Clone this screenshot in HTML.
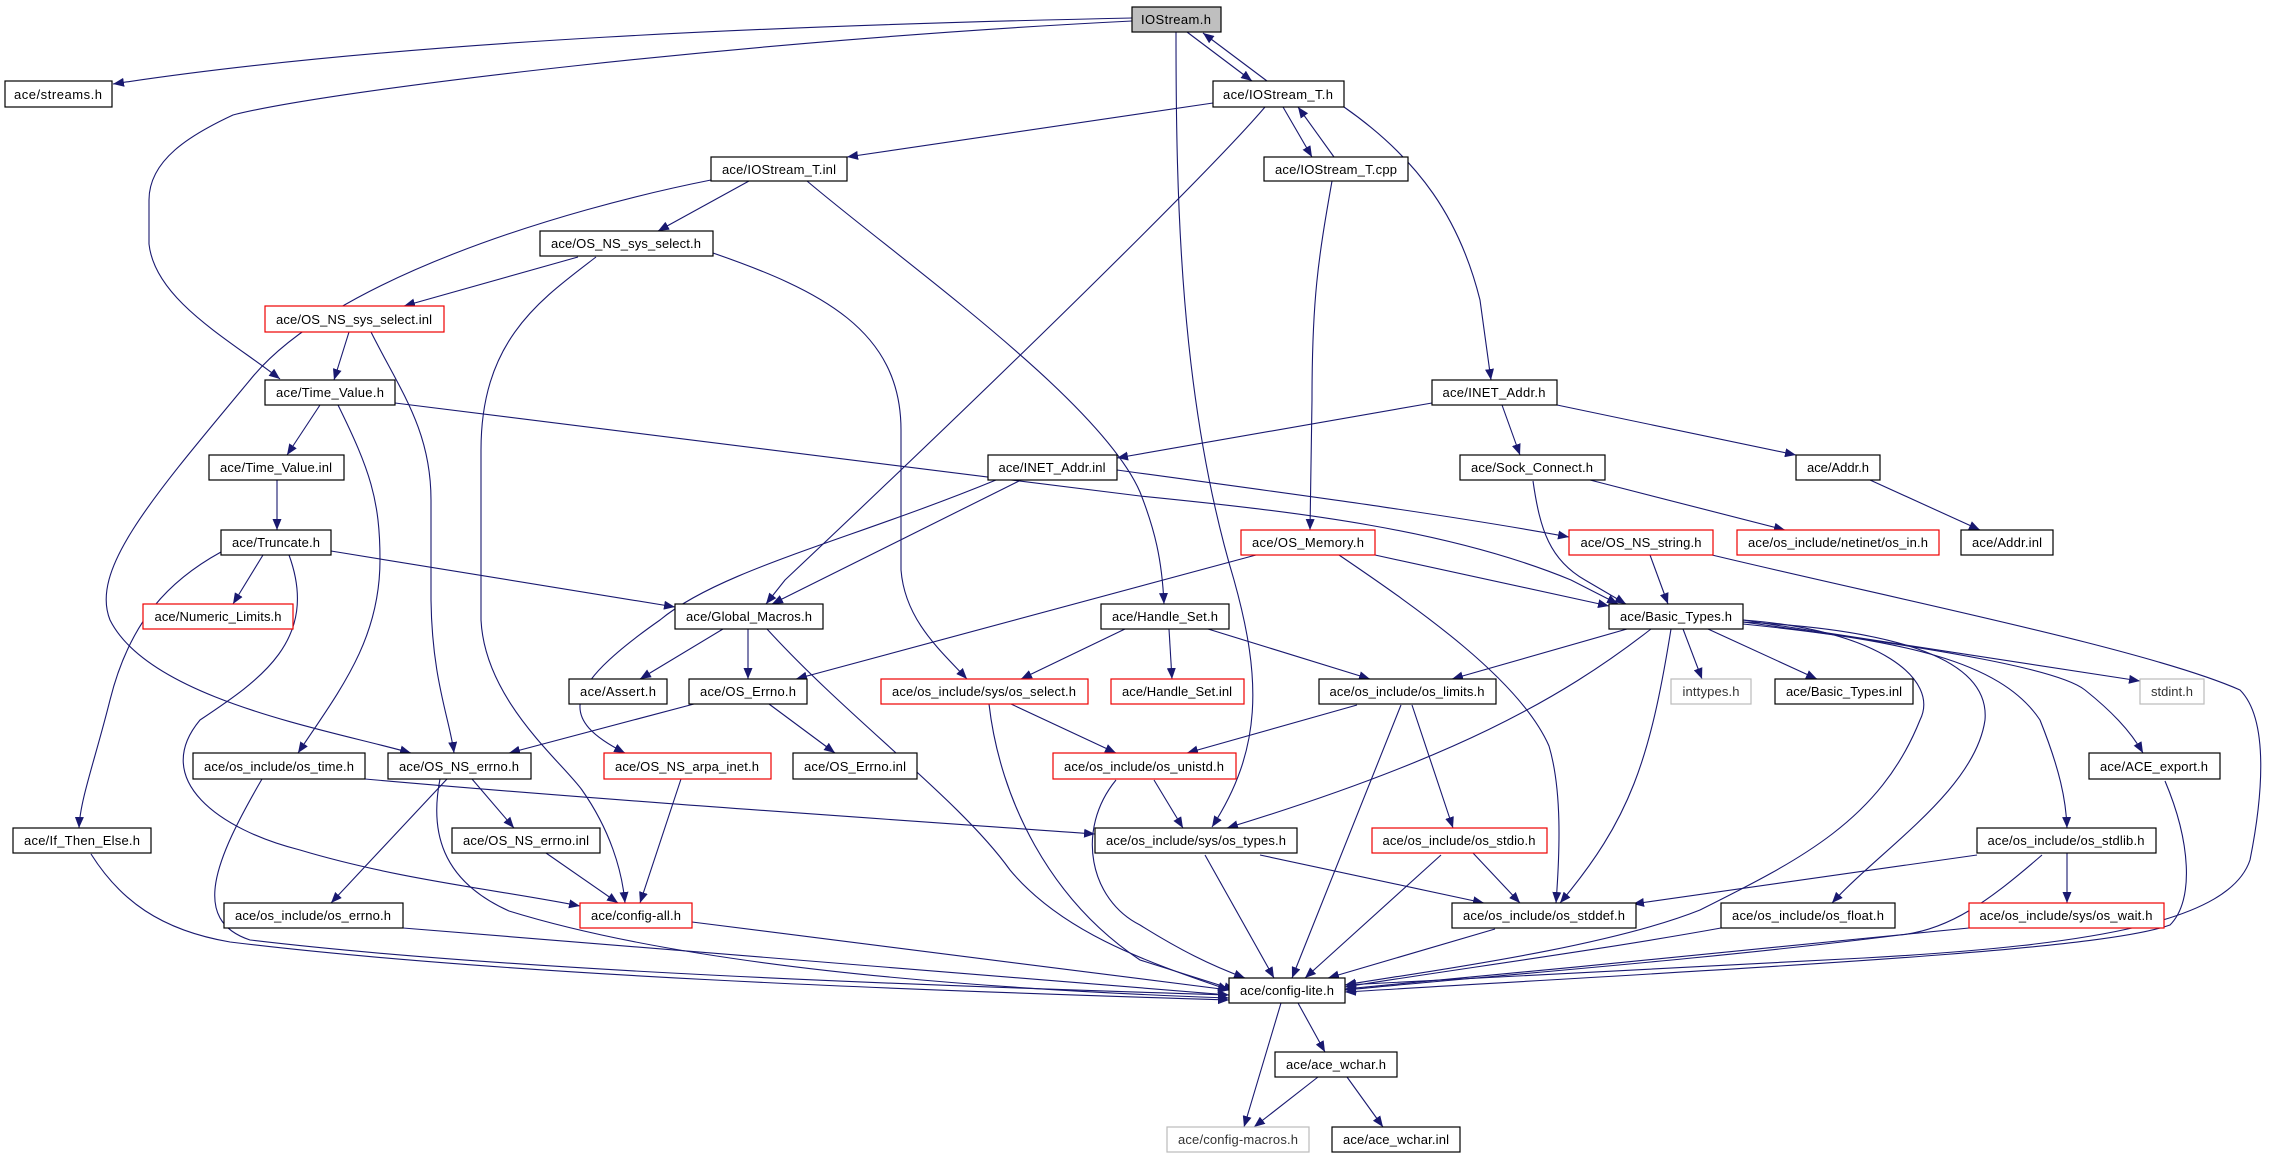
<!DOCTYPE html>
<html><head><meta charset="utf-8"><style>html,body{margin:0;padding:0;background:#fff}svg{display:block}</style></head><body>
<svg width="2276" height="1157" viewBox="0 0 2276 1157" xmlns="http://www.w3.org/2000/svg" font-family="Liberation Sans, sans-serif" font-size="13">
<defs><marker id="a" markerUnits="userSpaceOnUse" markerWidth="12" markerHeight="9" refX="11" refY="4.5" orient="auto"><path d="M0,0 L11,4.5 L0,9 z" fill="#191970"/></marker></defs>
<g fill="none" stroke="#191970" stroke-width="1.1" marker-end="url(#a)">
<path d="M1132,18 C800,25 400,40 113,84"/>
<path d="M1132,21 C750,40 330,90 233,115 C190,135 149,160 149,200 L149,244 C155,300 230,340 280,379"/>
<path d="M1187,32 L1252,81"/>
<path d="M1267,81 L1203,33"/>
<path d="M1176,32 C1176,200 1180,400 1234,580 C1262,680 1262,750 1212,827"/>
<path d="M1213,103 L847,157"/>
<path d="M1265,107 C1220,160 1050,330 785,580 L766,604"/>
<path d="M1283,107 L1312,157"/>
<path d="M1334,157 L1298,107"/>
<path d="M1344,107 C1420,160 1460,220 1480,300 L1491,380"/>
<path d="M1332,181 C1318,260 1312,300 1312,400 L1310,530"/>
<path d="M749,181 L658,231"/>
<path d="M711,180 C560,210 330,280 250,380 C150,500 90,570 110,620 C150,700 330,730 411,753"/>
<path d="M807,181 C900,260 1100,400 1140,492 C1155,530 1162,560 1164,604"/>
<path d="M578,257 L404,306"/>
<path d="M596,257 C540,300 481,340 481,450 L481,620 C485,700 560,760 582,790 C610,830 622,870 625,903"/>
<path d="M713,253 C820,290 901,330 901,430 L901,570 C905,620 940,650 967,679"/>
<path d="M349,332 L334,380"/>
<path d="M371,332 C400,390 431,430 431,500 L431,600 C432,680 450,720 454,753"/>
<path d="M320,405 L287,455"/>
<path d="M395,403 L1140,496 C1300,512 1450,530 1571,580 L1618,604"/>
<path d="M338,405 C370,470 380,500 380,560 C380,640 340,690 298,753"/>
<path d="M277,480 L277,530"/>
<path d="M263,555 L233,604"/>
<path d="M331,551 L675,607"/>
<path d="M221,552 C170,580 130,620 110,700 C95,760 80,800 79,828"/>
<path d="M289,555 C320,640 260,680 200,720 C150,780 220,830 300,850 C400,880 500,890 580,906"/>
<path d="M1432,403 L1117,458"/>
<path d="M1502,405 L1520,455"/>
<path d="M1557,405 L1796,455"/>
<path d="M1870,480 L1980,530"/>
<path d="M1590,480 L1785,530"/>
<path d="M1533,481 C1540,530 1550,560 1585,580 L1626,604"/>
<path d="M1117,470 C1300,495 1450,515 1569,537"/>
<path d="M1021,480 L772,604"/>
<path d="M996,480 C850,540 720,570 660,620 C560,690 560,720 625,753"/>
<path d="M1256,555 L796,679"/>
<path d="M1375,555 L1609,606"/>
<path d="M1339,555 C1420,610 1520,680 1549,746 C1562,790 1560,850 1556,903"/>
<path d="M1650,555 L1668,604"/>
<path d="M1712,555 C1900,600 2150,650 2240,690 C2270,720 2262,800 2250,860 C2230,920 2100,945 1864,958 L1345,985"/>
<path d="M723,629 L640,679"/>
<path d="M748,629 L748,679"/>
<path d="M767,629 C850,720 960,800 1010,870 C1060,930 1140,960 1229,990"/>
<path d="M1125,629 L1021,679"/>
<path d="M1169,629 L1172,679"/>
<path d="M1208,629 L1370,679"/>
<path d="M1627,629 L1452,679"/>
<path d="M1683,629 L1702,679"/>
<path d="M1708,629 L1817,679"/>
<path d="M1743,620 L2140,681"/>
<path d="M1743,622 C1950,650 2060,670 2085,690 C2110,710 2130,730 2143,753"/>
<path d="M1743,624 C1900,640 2000,660 2040,720 C2060,770 2066,800 2067,828"/>
<path d="M1743,622 C1900,630 1990,660 1985,720 C1975,790 1880,850 1832,903"/>
<path d="M1743,620 C1880,630 1940,680 1920,720 C1880,820 1800,860 1700,910 C1600,950 1400,975 1345,985"/>
<path d="M1671,629 C1650,760 1630,820 1560,903"/>
<path d="M1651,629 C1560,700 1450,760 1227,828"/>
<path d="M1357,705 L1187,753"/>
<path d="M1401,705 L1292,978"/>
<path d="M1412,705 L1453,828"/>
<path d="M1011,704 L1116,753"/>
<path d="M989,704 C1000,800 1050,900 1140,960 L1235,990"/>
<path d="M694,704 L509,753"/>
<path d="M769,704 L835,753"/>
<path d="M365,779 C600,800 900,820 1095,834"/>
<path d="M262,779 C215,860 190,920 250,940 C500,970 900,985 1229,995"/>
<path d="M472,779 L514,828"/>
<path d="M447,779 L331,903"/>
<path d="M440,779 C430,830 440,880 509,911 C700,970 1000,990 1229,998"/>
<path d="M546,853 L618,903"/>
<path d="M681,779 L640,903"/>
<path d="M1154,780 L1183,828"/>
<path d="M1116,780 C1075,830 1090,900 1140,925 C1180,950 1210,965 1245,978"/>
<path d="M91,854 C120,900 160,930 230,942 C500,975 900,990 1229,1000"/>
<path d="M403,928 L1229,995"/>
<path d="M692,922 L1229,990"/>
<path d="M1260,855 L1484,903"/>
<path d="M1205,855 L1274,978"/>
<path d="M1473,853 L1520,903"/>
<path d="M1441,855 L1305,978"/>
<path d="M1977,855 L1633,904"/>
<path d="M2067,853 L2067,903"/>
<path d="M2042,855 C1990,900 1950,930 1900,935 C1700,960 1500,975 1345,990"/>
<path d="M1495,929 L1328,978"/>
<path d="M1721,928 C1600,950 1450,970 1345,987"/>
<path d="M1969,928 C1800,945 1550,970 1345,989"/>
<path d="M2165,781 C2190,840 2195,900 2170,925 C2100,950 1800,965 1345,992"/>
<path d="M1298,1003 L1325,1052"/>
<path d="M1281,1003 L1244,1127"/>
<path d="M1318,1077 L1254,1127"/>
<path d="M1347,1077 L1383,1127"/>
</g>
<g stroke-width="1.2">
<rect x="1132" y="7" width="89" height="25" fill="#bfbfbf" stroke="#000"/>
<rect x="5" y="81" width="107" height="26" fill="#fff" stroke="#000"/>
<rect x="1213" y="81" width="131" height="26" fill="#fff" stroke="#000"/>
<rect x="711" y="157" width="136" height="24" fill="#fff" stroke="#000"/>
<rect x="1264" y="157" width="144" height="24" fill="#fff" stroke="#000"/>
<rect x="540" y="231" width="173" height="25" fill="#fff" stroke="#000"/>
<rect x="265" y="306" width="179" height="26" fill="#fff" stroke="#e00"/>
<rect x="265" y="380" width="130" height="25" fill="#fff" stroke="#000"/>
<rect x="209" y="455" width="135" height="25" fill="#fff" stroke="#000"/>
<rect x="221" y="530" width="110" height="25" fill="#fff" stroke="#000"/>
<rect x="988" y="455" width="129" height="25" fill="#fff" stroke="#000"/>
<rect x="1432" y="380" width="125" height="25" fill="#fff" stroke="#000"/>
<rect x="1460" y="455" width="145" height="25" fill="#fff" stroke="#000"/>
<rect x="1796" y="455" width="84" height="25" fill="#fff" stroke="#000"/>
<rect x="1241" y="530" width="134" height="25" fill="#fff" stroke="#e00"/>
<rect x="1569" y="530" width="144" height="25" fill="#fff" stroke="#e00"/>
<rect x="1737" y="530" width="202" height="25" fill="#fff" stroke="#e00"/>
<rect x="1961" y="530" width="92" height="25" fill="#fff" stroke="#000"/>
<rect x="143" y="604" width="150" height="25" fill="#fff" stroke="#e00"/>
<rect x="675" y="604" width="148" height="25" fill="#fff" stroke="#000"/>
<rect x="1101" y="604" width="128" height="25" fill="#fff" stroke="#000"/>
<rect x="1609" y="604" width="134" height="25" fill="#fff" stroke="#000"/>
<rect x="569" y="679" width="98" height="25" fill="#fff" stroke="#000"/>
<rect x="689" y="679" width="118" height="25" fill="#fff" stroke="#000"/>
<rect x="881" y="679" width="207" height="25" fill="#fff" stroke="#e00"/>
<rect x="1111" y="679" width="133" height="25" fill="#fff" stroke="#e00"/>
<rect x="1319" y="679" width="177" height="25" fill="#fff" stroke="#000"/>
<rect x="1671" y="679" width="80" height="25" fill="#fff" stroke="#bbb"/>
<rect x="1775" y="679" width="138" height="25" fill="#fff" stroke="#000"/>
<rect x="2140" y="679" width="64" height="25" fill="#fff" stroke="#bbb"/>
<rect x="193" y="753" width="172" height="26" fill="#fff" stroke="#000"/>
<rect x="388" y="753" width="143" height="26" fill="#fff" stroke="#000"/>
<rect x="604" y="753" width="167" height="26" fill="#fff" stroke="#e00"/>
<rect x="793" y="753" width="124" height="26" fill="#fff" stroke="#000"/>
<rect x="1053" y="753" width="183" height="26" fill="#fff" stroke="#e00"/>
<rect x="2089" y="753" width="131" height="26" fill="#fff" stroke="#000"/>
<rect x="13" y="828" width="138" height="25" fill="#fff" stroke="#000"/>
<rect x="452" y="828" width="148" height="25" fill="#fff" stroke="#000"/>
<rect x="1095" y="828" width="202" height="25" fill="#fff" stroke="#000"/>
<rect x="1372" y="828" width="175" height="25" fill="#fff" stroke="#e00"/>
<rect x="1977" y="828" width="179" height="25" fill="#fff" stroke="#000"/>
<rect x="224" y="903" width="179" height="25" fill="#fff" stroke="#000"/>
<rect x="580" y="903" width="112" height="25" fill="#fff" stroke="#e00"/>
<rect x="1452" y="903" width="184" height="25" fill="#fff" stroke="#000"/>
<rect x="1721" y="903" width="174" height="25" fill="#fff" stroke="#000"/>
<rect x="1969" y="903" width="195" height="25" fill="#fff" stroke="#e00"/>
<rect x="1229" y="978" width="116" height="25" fill="#fff" stroke="#000"/>
<rect x="1275" y="1052" width="122" height="25" fill="#fff" stroke="#000"/>
<rect x="1167" y="1127" width="142" height="25" fill="#fff" stroke="#bbb"/>
<rect x="1332" y="1127" width="128" height="25" fill="#fff" stroke="#000"/>
</g>
<g text-anchor="middle" fill="#000" lengthAdjust="spacingAndGlyphs">
<text x="1176" y="24" textLength="70">IOStream.h</text>
<text x="58" y="99" textLength="88">ace/streams.h</text>
<text x="1278" y="99" textLength="110">ace/IOStream_T.h</text>
<text x="779" y="174" textLength="114">ace/IOStream_T.inl</text>
<text x="1336" y="174" textLength="122">ace/IOStream_T.cpp</text>
<text x="626" y="248" textLength="150">ace/OS_NS_sys_select.h</text>
<text x="354" y="324" textLength="156">ace/OS_NS_sys_select.inl</text>
<text x="330" y="397" textLength="108">ace/Time_Value.h</text>
<text x="276" y="472" textLength="112">ace/Time_Value.inl</text>
<text x="276" y="547" textLength="88">ace/Truncate.h</text>
<text x="1052" y="472" textLength="107">ace/INET_Addr.inl</text>
<text x="1494" y="397" textLength="103">ace/INET_Addr.h</text>
<text x="1532" y="472" textLength="122">ace/Sock_Connect.h</text>
<text x="1838" y="472" textLength="62">ace/Addr.h</text>
<text x="1308" y="547" textLength="112">ace/OS_Memory.h</text>
<text x="1641" y="547" textLength="121">ace/OS_NS_string.h</text>
<text x="1838" y="547" textLength="180">ace/os_include/netinet/os_in.h</text>
<text x="2007" y="547" textLength="70">ace/Addr.inl</text>
<text x="218" y="621" textLength="127">ace/Numeric_Limits.h</text>
<text x="749" y="621" textLength="126">ace/Global_Macros.h</text>
<text x="1165" y="621" textLength="106">ace/Handle_Set.h</text>
<text x="1676" y="621" textLength="112">ace/Basic_Types.h</text>
<text x="618" y="696" textLength="76">ace/Assert.h</text>
<text x="748" y="696" textLength="96">ace/OS_Errno.h</text>
<text x="984" y="696" textLength="184">ace/os_include/sys/os_select.h</text>
<text x="1177" y="696" textLength="110">ace/Handle_Set.inl</text>
<text x="1407" y="696" textLength="155">ace/os_include/os_limits.h</text>
<text x="1711" y="696" textLength="57" fill="#333">inttypes.h</text>
<text x="1844" y="696" textLength="116">ace/Basic_Types.inl</text>
<text x="2172" y="696" textLength="42" fill="#333">stdint.h</text>
<text x="279" y="771" textLength="150">ace/os_include/os_time.h</text>
<text x="459" y="771" textLength="120">ace/OS_NS_errno.h</text>
<text x="687" y="771" textLength="144">ace/OS_NS_arpa_inet.h</text>
<text x="855" y="771" textLength="102">ace/OS_Errno.inl</text>
<text x="1144" y="771" textLength="160">ace/os_include/os_unistd.h</text>
<text x="2154" y="771" textLength="108">ace/ACE_export.h</text>
<text x="82" y="845" textLength="116">ace/If_Then_Else.h</text>
<text x="526" y="845" textLength="126">ace/OS_NS_errno.inl</text>
<text x="1196" y="845" textLength="180">ace/os_include/sys/os_types.h</text>
<text x="1459" y="845" textLength="153">ace/os_include/os_stdio.h</text>
<text x="2066" y="845" textLength="157">ace/os_include/os_stdlib.h</text>
<text x="313" y="920" textLength="156">ace/os_include/os_errno.h</text>
<text x="636" y="920" textLength="90">ace/config-all.h</text>
<text x="1544" y="920" textLength="162">ace/os_include/os_stddef.h</text>
<text x="1808" y="920" textLength="152">ace/os_include/os_float.h</text>
<text x="2066" y="920" textLength="173">ace/os_include/sys/os_wait.h</text>
<text x="1287" y="995" textLength="94">ace/config-lite.h</text>
<text x="1336" y="1069" textLength="100">ace/ace_wchar.h</text>
<text x="1238" y="1144" textLength="120" fill="#333">ace/config-macros.h</text>
<text x="1396" y="1144" textLength="106">ace/ace_wchar.inl</text>
</g>
</svg>
</body></html>
